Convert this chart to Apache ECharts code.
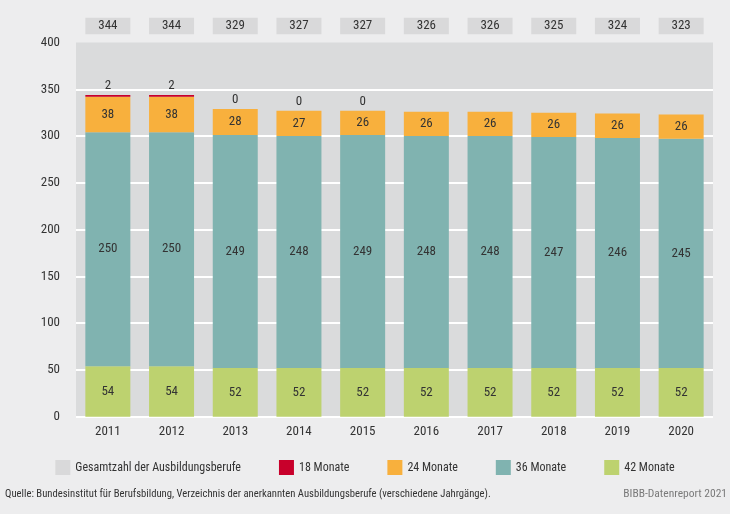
<!DOCTYPE html>
<html>
<head>
<meta charset="utf-8">
<script src="https://cdn.jsdelivr.net/npm/echarts@6/dist/echarts.min.js"></script>
<style>
html, body { margin: 0; padding: 0; background: #ededee; }
#main { width: 730px; height: 514px; }
</style>
</head>
<body>
<div id="main"></div>
<script>
var years = ['2011', '2012', '2013', '2014', '2015', '2016', '2017', '2018', '2019', '2020'];
var totals = [344, 344, 329, 327, 327, 326, 326, 325, 324, 323];
var m42 = [54, 54, 52, 52, 52, 52, 52, 52, 52, 52];
var m36 = [250, 250, 249, 248, 249, 248, 248, 247, 246, 245];
var m24 = [38, 38, 28, 27, 26, 26, 26, 26, 26, 26];
var m18 = [2, 2, 0, 0, 0, null, null, null, null, null];
var yTicks = { min: 0, max: 400, step: 50 };

var font = "'Roboto Condensed', 'Liberation Sans Narrow', sans-serif";
var textColor = '#333333';

function fillChart() {
	var inLabel = {
		show : true,
		position : 'inside',
		color : textColor,
		fontFamily : font,
		fontSize : 13
	};
	option = {
		backgroundColor : '#ededee',
		animation : false,
		textStyle : {
			fontFamily : font
		},
		legend : {
			data : [ 'Gesamtzahl der Ausbildungsberufe', '18 Monate', '24 Monate', '36 Monate', '42 Monate' ],
			left : 'center',
			top : 455,
			itemWidth : 15,
			itemHeight : 15,
			itemGap : 38,
			icon : 'rect',
			textStyle : {
				color : textColor,
				fontFamily : font,
				fontSize : 12
			}
		},
		graphic : [ {
			type : 'text',
			left : 5,
			top : 489,
			style : {
				text : 'Quelle: Bundesinstitut für Berufsbildung, Verzeichnis der anerkannten Ausbildungsberufe (verschiedene Jahrgänge).',
				fill : textColor,
				font : '10.65px ' + font
			}
		}, {
			type : 'text',
			right : 3,
			top : 488,
			style : {
				text : 'BIBB-Datenreport 2021',
				fill : '#7a7a7a',
				font : '11.5px ' + font
			}
		} ],
		grid : [ {
			left : 76,
			right : 17,
			top : 42.5,
			bottom : 97.3,
			show : true,
			backgroundColor : '#dadbdc',
			borderWidth : 0
		}, {
			left : 76,
			right : 17,
			top : 17.7,
			height : 16.6
		} ],
		xAxis : [ {
			type : 'category',
			data : years,
			gridIndex : 0,
			axisLine : { show : false },
			axisTick : { show : false },
			axisLabel : {
				color : textColor,
				fontSize : 13,
				margin : 9
			}
		}, {
			type : 'category',
			data : years,
			gridIndex : 1,
			show : false
		} ],
		yAxis : [ {
			type : 'value',
			gridIndex : 0,
			min : yTicks.min,
			max : yTicks.max,
			interval : yTicks.step,
			axisLine : { show : false },
			axisTick : { show : false },
			axisLabel : {
				color : textColor,
				fontSize : 13,
				margin : 16
			},
			splitLine : {
				showMaxLine : false,
				lineStyle : { color : '#ffffff', width : 2 }
			}
		}, {
			type : 'value',
			gridIndex : 1,
			min : 0,
			max : 1,
			show : false
		} ],
		series : [ {
			name : 'Gesamtzahl der Ausbildungsberufe',
			type : 'bar',
			xAxisIndex : 1,
			yAxisIndex : 1,
			barWidth : 45,
			data : totals.map(function() { return 1; }),
			itemStyle : { color : '#d9d9da' },
			label : {
				show : true,
				position : 'inside',
				color : textColor,
				fontSize : 13,
				formatter : function(p) { return totals[p.dataIndex]; }
			}
		}, {
			name : '42 Monate',
			type : 'bar',
			stack : 'a',
			barWidth : 45,
			data : m42,
			itemStyle : { color : '#bdd26f' },
			label : inLabel
		}, {
			name : '36 Monate',
			type : 'bar',
			stack : 'a',
			data : m36,
			itemStyle : { color : '#80b3b0' },
			label : inLabel
		}, {
			name : '24 Monate',
			type : 'bar',
			stack : 'a',
			data : m24,
			itemStyle : { color : '#f8b03d' },
			label : inLabel
		}, {
			name : '18 Monate',
			type : 'bar',
			stack : 'a',
			data : m18,
			itemStyle : { color : '#c8002b' },
			label : {
				show : true,
				position : 'top',
				distance : 3,
				color : textColor,
				fontSize : 13
			}
		} ]
	};

	myChart = echarts.init(document.getElementById('main'));
	myChart.setOption(option, true);
}
fillChart();
</script>
</body>
</html>
